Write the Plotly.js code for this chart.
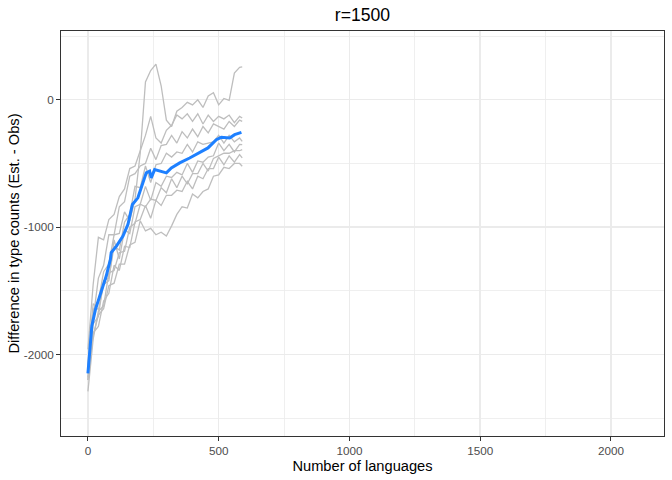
<!DOCTYPE html>
<html>
<head>
<meta charset="utf-8">
<script src="https://cdn.plot.ly/plotly-3.0.1.min.js"></script>
<style>html,body{margin:0;padding:0;background:#fff;}#chart{width:672px;height:480px;}</style>
</head>
<body>
<div id="chart"></div>
<script>
// Shared x grid for sampled runs (number of languages)
const runX = [0,20,40,60,80,100,120,140,160,180,200,220,240,260,280,300,320,340,360,380,400,420,440,460,480,500,520,540,560,580,590];

// Individual runs (grey)
const runA = [-2100,-1650,-1580,-1350,-1290,-1060,-1050,-880,-950,-780,-420,140,230,280,110,-160,-210,-90,-60,-20,-40,0,-60,30,55,-40,10,-5,210,255,258];
const runB = [-1960,-1450,-1080,-1100,-940,-900,-760,-700,-540,-520,-400,-280,-130,-300,-340,-240,-200,-120,-150,-110,-170,-110,-190,-120,-170,-130,-150,-120,-180,-130,-143];
const runC = [-2150,-1720,-1400,-1300,-1060,-1060,-840,-800,-600,-580,-520,-500,-380,-470,-360,-350,-280,-340,-250,-300,-230,-290,-210,-260,-190,-210,-230,-170,-210,-160,-170];
const runD = [-2200,-1760,-1700,-1420,-1400,-1150,-1180,-960,-900,-680,-690,-520,-650,-510,-500,-420,-450,-410,-420,-350,-410,-330,-350,-340,-330,-280,-340,-280,-330,-300,-326];
const runE = [-2080,-1600,-1650,-1450,-1420,-1100,-1250,-1020,-1050,-840,-820,-680,-790,-650,-680,-600,-610,-570,-590,-500,-570,-480,-490,-450,-440,-340,-400,-350,-410,-350,-352];
const runF = [-2290,-1880,-1660,-1620,-1360,-1340,-1200,-1190,-1000,-970,-820,-840,-780,-790,-690,-730,-620,-690,-600,-660,-580,-580,-500,-560,-460,-440,-420,-420,-400,-400,-391];
const runG = [-2200,-1830,-1780,-1580,-1520,-1300,-1340,-1150,-1160,-960,-940,-830,-930,-790,-830,-750,-750,-710,-720,-640,-700,-600,-620,-540,-540,-450,-510,-440,-490,-430,-457];
const runH = [-2180,-1850,-1690,-1640,-1460,-1440,-1290,-1290,-1140,-1120,-950,-1030,-1010,-1060,-1040,-1070,-990,-900,-840,-850,-740,-770,-720,-700,-600,-590,-530,-540,-500,-500,-522];

// Mean curve (blue)
const meanX = [0,15,29,51,70,86,89,109,134,153,170,191,210,223,236,242,255,274,300,319,351,389,427,459,491,510,542,561,587];
const meanY = [-2148,-1775,-1644,-1511,-1384,-1253,-1200,-1149,-1070,-979,-822,-770,-652,-574,-561,-613,-548,-561,-574,-535,-496,-457,-417,-378,-313,-295,-300,-274,-256];

const xTicks = [0,500,1000,1500,2000];
const yTicks = [-2000,-1000,0];
const yTickText = ["-2000","-1000","0"];

const runs = [runA,runB,runC,runD,runE,runF,runG,runH];
const traces = runs.map(r => ({
  x: runX, y: r, type: 'scatter', mode: 'lines',
  line: {color: '#BEBEBE', width: 1.3},
  hoverinfo: 'skip', showlegend: false
}));
traces.push({
  x: meanX, y: meanY, type: 'scatter', mode: 'lines',
  line: {color: '#1E80FF', width: 3},
  showlegend: false
});

const font = "'Liberation Sans', Arial, Helvetica, sans-serif";
const layout = {
  width: 672, height: 480,
  margin: {l: 61, r: 8, t: 31, b: 44},
  paper_bgcolor: '#ffffff', plot_bgcolor: '#ffffff',
  font: {family: font, color: '#000000'},
  title: {text: 'r=1500', font: {size: 17.6, color: '#000000', family: font},
          x: 0.5, xref: 'paper', xanchor: 'center', y: 1 - 15/480, yref: 'container', yanchor: 'middle'},
  xaxis: {
    range: [-103, 2203], tickmode: 'array', tickvals: xTicks,
    ticks: 'outside', ticklen: 3.7, tickwidth: 1.1, tickcolor: '#333333',
    tickfont: {size: 11.7, color: '#4D4D4D', family: font},
    showgrid: true, gridcolor: '#EBEBEB', gridwidth: 1.4,
    minor: {tickmode: 'array', tickvals: [250,750,1250,1750], showgrid: true, gridcolor: '#EBEBEB', gridwidth: 0.8, ticks: ''},
    zeroline: false, showline: true, linecolor: '#333333', linewidth: 1.2, mirror: true,
    title: {text: 'Number of languages', font: {size: 14.67, color: '#000000', family: font}, standoff: 4},
    automargin: false
  },
  yaxis: {
    range: [-2640, 540], tickmode: 'array', tickvals: yTicks, ticktext: yTickText,
    ticks: 'outside', ticklen: 3.7, tickwidth: 1.1, tickcolor: '#333333',
    tickfont: {size: 11.7, color: '#4D4D4D', family: font},
    showgrid: true, gridcolor: '#EBEBEB', gridwidth: 1.4,
    minor: {tickmode: 'array', tickvals: [-2500,-1500,-500,500], showgrid: true, gridcolor: '#EBEBEB', gridwidth: 0.8, ticks: ''},
    zeroline: false, showline: true, linecolor: '#333333', linewidth: 1.2, mirror: true,
    title: {text: 'Difference in type counts (Est. - Obs)', font: {size: 14.67, color: '#000000', family: font}, standoff: 0},
    automargin: false
  }
};

Plotly.newPlot('chart', traces, layout, {displayModeBar: false, staticPlot: true});
</script>
</body>
</html>
